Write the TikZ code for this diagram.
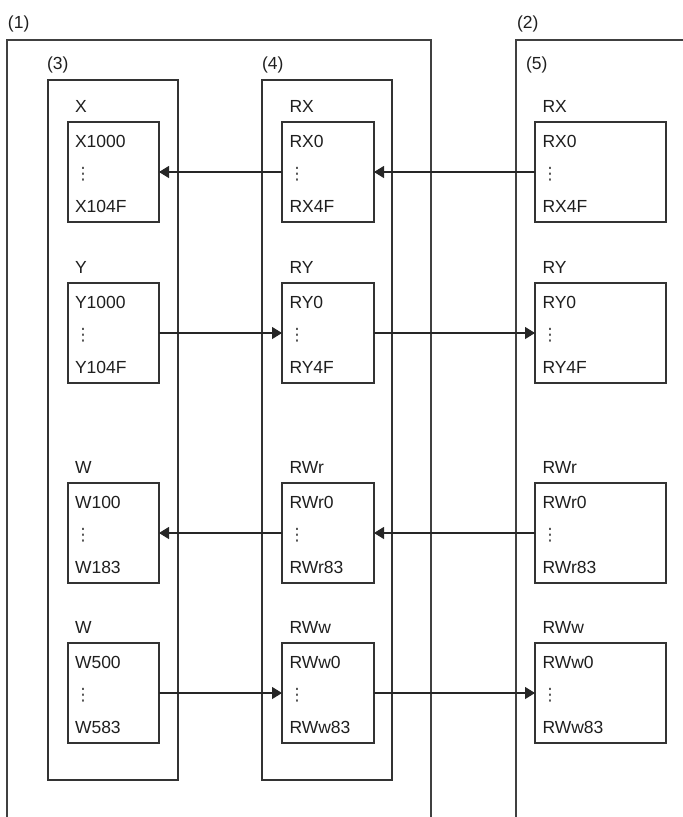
\documentclass[tikz,border=0pt]{standalone}
\usepackage{fontspec}
\setmainfont{Liberation Sans}
\newfontfamily\dotsfont{DejaVu Sans}
\usetikzlibrary{arrows.meta}
\begin{document}
\begin{tikzpicture}[x=1pt,y=-1pt,
  line width=1.2pt,
  every node/.style={inner sep=0pt, outer sep=0pt, text=black!88},
  frame/.style={draw=black!75, line width=1.3pt},
  cont/.style={draw=black!80, line width=1.2pt, rectangle, anchor=north west, minimum width=130pt, minimum height=700pt},
  mem/.style={draw=black!80, line width=1.2pt, rectangle, anchor=north west, minimum height=100pt},
  txt/.style={anchor=base west, font=\fontsize{17.5}{20}\selectfont},
  vd/.style={anchor=center, font=\dotsfont\fontsize{17}{17}\selectfont, text=black!75},
  arr/.style={draw=black!85, line width=1.2pt, -{Triangle[length=10pt,width=12pt]}}
]
\useasboundingbox (0,0) rectangle (683,817);
% outer frames
\draw[frame] (7,817) |- (431,40) -- (431,817);
\draw[frame] (516,817) |- (683,40);
\node[txt] (l1) at (8,28) {(1)};
\node[txt] (l2) at (517,28) {(2)};
% containers
\node[cont] (c3) at (48,80) {};
\node[cont] (c4) at (262,80) {};
\node[txt] (l3) at (47,69) {(3)};
\node[txt] (l4) at (262,69) {(4)};
\node[txt] (l5) at (526,69) {(5)};
% memory boxes
\foreach \r/\y/\a/\b/\c/\d/\e/\f/\g/\h/\i in {
  1/122/X/X1000/X104F/RX/RX0/RX4F/RX/RX0/RX4F,
  2/283/Y/Y1000/Y104F/RY/RY0/RY4F/RY/RY0/RY4F,
  3/483/W/W100/W183/RWr/RWr0/RWr83/RWr/RWr0/RWr83,
  4/643/W/W500/W583/RWw/RWw0/RWw83/RWw/RWw0/RWw83}{
  \node[mem, minimum width=91pt] (m3\r) at (68,\y) {};
  \node[mem, minimum width=92pt] (m4\r) at (282,\y) {};
  \node[mem, minimum width=131pt] (m5\r) at (535,\y) {};
  \node[txt] (t3\r) at (75,\y-10) {\a};
  \node[txt] (u3\r) at (75,\y+25) {\b};
  \node[txt] (v3\r) at (75,\y+90) {\c};
  \node[vd] (d3\r) at (83,\y+52) {⋮};
  \node[txt] (t4\r) at (289.5,\y-10) {\d};
  \node[txt] (u4\r) at (289.5,\y+25) {\e};
  \node[txt] (v4\r) at (289.5,\y+90) {\f};
  \node[vd] (d4\r) at (297,\y+52) {⋮};
  \node[txt] (t5\r) at (542.5,\y-10) {\g};
  \node[txt] (u5\r) at (542.5,\y+25) {\h};
  \node[txt] (v5\r) at (542.5,\y+90) {\i};
  \node[vd] (d5\r) at (550,\y+52) {⋮};
}
% connectors
\draw[arr] (m51.west) -- (m41.east);
\draw[arr] (m41.west) -- (m31.east);
\draw[arr] (m32.east) -- (m42.west);
\draw[arr] (m42.east) -- (m52.west);
\draw[arr] (m53.west) -- (m43.east);
\draw[arr] (m43.west) -- (m33.east);
\draw[arr] (m34.east) -- (m44.west);
\draw[arr] (m44.east) -- (m54.west);
\end{tikzpicture}
\end{document}
